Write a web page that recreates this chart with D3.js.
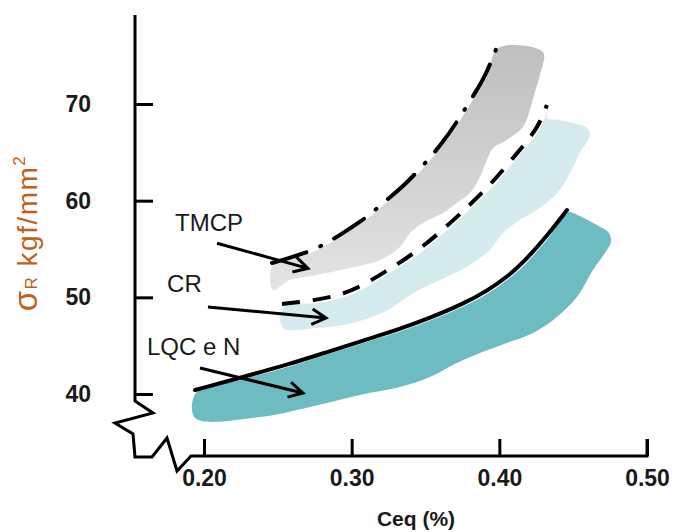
<!DOCTYPE html>
<html>
<head>
<meta charset="utf-8">
<script src="https://cdn.jsdelivr.net/npm/d3@7"></script>
<style>
    html, body { margin: 0; padding: 0; background: #fff; }
    #chart svg { display: block; }
</style>
</head>
<body>
<div id="chart"></div>
<script>
// tick values / labels
var xTicks = [0.20, 0.30, 0.40, 0.50];
var yTicks = [40, 50, 60, 70];

// upper boundary lines  [Ceq, sigmaR]
var tmcpLine = [[0.246, 53.55], [0.2697, 54.59], [0.2833, 55.62], [0.2941, 56.65], [0.3056, 57.79],
    [0.3144, 58.83], [0.326, 60.38], [0.3361, 61.62], [0.353, 64.41], [0.3618, 66.07],
    [0.370, 67.83], [0.3835, 71.14], [0.3903, 72.79], [0.3984, 75.9]];
var crLine = [[0.2528, 49.31], [0.2765, 49.72], [0.2921, 50.24], [0.3056, 51.07], [0.3225, 52.62],
    [0.3429, 54.59], [0.3618, 56.97], [0.380, 59.55], [0.397, 62.14], [0.4126, 65.03],
    [0.4207, 66.48], [0.4275, 68.03], [0.4322, 69.9]];
var lqcLine = [[0.1939, 40.41], [0.2264, 41.76], [0.2582, 43.1], [0.2833, 44.34], [0.309, 45.59],
    [0.3307, 46.62], [0.353, 47.86], [0.3754, 49.31], [0.3916, 50.65], [0.4051, 52.1],
    [0.416, 53.55], [0.4322, 56.34], [0.4458, 59.03]];

// scatter bands: lower/right outline of each region (upper edge runs along its line)
var tmcpBandEdge = [[0.4295, 75.38], [0.4275, 73.0], [0.4241, 71.24], [0.4207, 69.38], [0.416, 67.62],
    [0.4051, 66.28], [0.3957, 65.45], [0.3916, 64.2], [0.3869, 62.45], [0.3801, 60.79],
    [0.3713, 59.76], [0.3618, 58.72], [0.3483, 57.69], [0.3395, 56.65], [0.3327, 55.21],
    [0.3192, 53.86], [0.2989, 53.03], [0.2765, 52.31], [0.2582, 51.79], [0.2467, 50.76]];
var crBandEdge = [[0.4322, 68.55], [0.441, 68.34], [0.4593, 67.52], [0.4613, 66.79], [0.4546, 64.93],
    [0.4478, 62.86], [0.441, 61.1], [0.4343, 60.07], [0.4255, 59.03], [0.4139, 58.0],
    [0.4024, 56.65], [0.3936, 54.9], [0.3821, 53.55], [0.3713, 52.62], [0.3598, 51.79],
    [0.3483, 50.97], [0.3374, 50.03], [0.3259, 48.79], [0.3077, 47.65], [0.2941, 47.14],
    [0.2765, 46.83], [0.2535, 46.83]];
var lqcBandEdge = [[0.4498, 58.72], [0.4661, 57.48], [0.4742, 56.65], [0.4756, 55.72], [0.4729, 54.9],
    [0.4634, 52.83], [0.4525, 50.03], [0.439, 47.97], [0.4228, 46.31], [0.4051, 45.28],
    [0.3869, 44.24], [0.3713, 43.21], [0.353, 41.76], [0.3327, 40.72], [0.3056, 39.9],
    [0.2718, 38.66], [0.2379, 37.62], [0.1939, 37.52]];

// labels with arrows: text anchor, arrow start, arrow end (data coords)
var labelNames = ['TMCP', 'CR', 'LQC e N'];
var labelAt = [[0.1804, 56.86], [0.175, 50.55], [0.1614, 44.03]];
var arrowFrom = [[0.2088, 55.6], [0.2027, 49.0], [0.1973, 42.69]];
var arrowTo = [[0.2704, 53.0], [0.2826, 47.86], [0.267, 40.1]];

function MyApp() {

    this.init = function() {
        this._config = {
            width: 681,
            height: 532
        };
        this._x = d3.scaleLinear().domain([0.2, 0.5]).range([204, 647]);
        this._y = d3.scaleLinear().domain([40, 70]).range([394, 104]);
        this._rootNode = undefined;
        this._initElements();
        this._drawBands();
        this._drawLines();
        this._drawAxes();
        this._drawLabels();
    };

    this._initElements = function() {
        this._rootNode = d3.select('#chart')
            .append('svg')
            .attr('width', this._config.width)
            .attr('height', this._config.height);

        var grad = this._rootNode.append('defs')
            .append('linearGradient')
            .attr('id', 'grayFill')
            .attr('gradientUnits', 'userSpaceOnUse')
            .attr('x1', 0).attr('y1', 48)
            .attr('x2', 0).attr('y2', 292);
        grad.append('stop').attr('offset', '0%').attr('stop-color', '#bfbfbf');
        grad.append('stop').attr('offset', '100%').attr('stop-color', '#e4e4e4');
    };

    this._drawBands = function() {
        var x = this._x, y = this._y;
        var area = d3.line()
            .x(function(d) { return x(d[0]); })
            .y(function(d) { return y(d[1]); })
            .curve(d3.curveCatmullRomClosed.alpha(0.5));

        // upper edge = boundary line, nudged a little under it
        var under = function(pts, dy) {
            return pts.map(function(p) { return [p[0] + 0.001, p[1] - dy]; });
        };
        var bands = [
            { pts: under(tmcpLine, 0.1).concat(tmcpBandEdge), fill: 'url(#grayFill)' },
            { pts: under(crLine, 0.3).concat(crBandEdge), fill: '#d5ebee' },
            { pts: under(lqcLine, 0.2).concat(lqcBandEdge), fill: '#6dbcc2' }
        ];
        this._rootNode.selectAll('path.band')
            .data(bands)
            .enter().append('path')
            .attr('class', 'band')
            .attr('d', function(b) { return area(b.pts); })
            .attr('fill', function(b) { return b.fill; });
    };

    this._drawLines = function() {
        var x = this._x, y = this._y;
        var line = d3.line()
            .x(function(d) { return x(d[0]); })
            .y(function(d) { return y(d[1]); })
            .curve(d3.curveBasis);

        var lines = [
            { pts: tmcpLine, dash: '36,15,1,15', cap: 'round' },
            { pts: crLine, dash: '18,13', cap: 'butt' },
            { pts: lqcLine, dash: null, cap: 'round' }
        ];
        this._rootNode.selectAll('path.bound')
            .data(lines)
            .enter().append('path')
            .attr('class', 'bound')
            .attr('d', function(l) { return line(l.pts); })
            .attr('fill', 'none')
            .attr('stroke', '#000')
            .attr('stroke-width', 4)
            .attr('stroke-linecap', function(l) { return l.cap; })
            .attr('stroke-dasharray', function(l) { return l.dash; });
    };

    this._drawAxes = function() {
        var x = this._x, y = this._y;
        var ax = 135, ay = 456;
        var svg = this._rootNode;

        var xAxis = d3.axisBottom(x)
            .tickValues(xTicks)
            .tickFormat(d3.format('.2f'))
            .tickSizeInner(-17)
            .tickSizeOuter(0)
            .tickPadding(14);
        var gx = svg.append('g').attr('transform', 'translate(0,' + ay + ')').call(xAxis);

        var yAxis = d3.axisLeft(y)
            .tickValues(yTicks)
            .tickSizeInner(-18)
            .tickSizeOuter(0)
            .tickPadding(44);
        var gy = svg.append('g').attr('transform', 'translate(' + ax + ',0)').call(yAxis);

        [gx, gy].forEach(function(g) {
            g.select('.domain').remove();
            g.selectAll('.tick line').attr('stroke', '#000').attr('stroke-width', 3);
            g.selectAll('.tick text')
                .attr('fill', '#1a1a1a')
                .style('font-family', '"Liberation Sans", Arial, sans-serif')
                .style('font-size', '23px')
                .style('font-weight', 'bold');
        });
        gy.selectAll('.tick text').attr('text-anchor', 'end').attr('dx', 0);

        // axis lines with the broken-axis zigzags
        var brk = d3.path();
        brk.moveTo(ax, 15);
        brk.lineTo(ax, 401);
        brk.lineTo(ax + 18, 413);
        brk.lineTo(ax - 20, 423);
        brk.lineTo(ax - 2, 434);
        brk.lineTo(ax, ay + 1);
        brk.lineTo(ax + 17, ay + 1);
        brk.lineTo(ax + 32, ay - 18);
        brk.lineTo(ax + 42, ay + 15);
        brk.lineTo(ax + 56, ay);
        brk.lineTo(x(0.5), ay);
        brk.lineTo(x(0.5), ay - 17);
        svg.append('path')
            .attr('d', brk.toString())
            .attr('fill', 'none')
            .attr('stroke', '#000')
            .attr('stroke-width', 3)
            .attr('stroke-linejoin', 'miter');

        svg.append('text')
            .attr('x', 416)
            .attr('y', 526)
            .attr('text-anchor', 'middle')
            .attr('fill', '#1a1a1a')
            .style('font-family', '"Liberation Sans", Arial, sans-serif')
            .style('font-size', '21px')
            .style('font-weight', 'bold')
            .text('Ceq (%)');

        var yl = svg.append('text')
            .attr('transform', 'translate(37,233) rotate(-90)')
            .attr('text-anchor', 'middle')
            .attr('fill', '#c0601c')
            .style('font-family', '"Liberation Sans", Arial, sans-serif')
            .style('font-size', '28px')
            .style('letter-spacing', '1.5px');
        yl.append('tspan').style('font-size', '33px').text('σ');
        yl.append('tspan').style('font-size', '17px').text('R');
        yl.append('tspan').text(' kgf/mm');
        yl.append('tspan').style('font-size', '17px').attr('dy', -12).text('2');
    };

    this._drawLabels = function() {
        var x = this._x, y = this._y;
        var svg = this._rootNode;
        var data = labelNames.map(function(n, i) {
            return { name: n, at: labelAt[i], from: arrowFrom[i], to: arrowTo[i] };
        });

        svg.selectAll('text.lab')
            .data(data)
            .enter().append('text')
            .attr('class', 'lab')
            .attr('x', function(d) { return x(d.at[0]); })
            .attr('y', function(d) { return y(d.at[1]); })
            .attr('fill', '#1a1a1a')
            .style('font-family', '"Liberation Sans", Arial, sans-serif')
            .style('font-size', '24px')
            .text(function(d) { return d.name; });

        var arrow = function(d) {
            var x0 = x(d.from[0]), y0 = y(d.from[1]);
            var x1 = x(d.to[0]), y1 = y(d.to[1]);
            var a = Math.atan2(y1 - y0, x1 - x0);
            var len = 16, spread = 0.5;
            var p = d3.path();
            p.moveTo(x0, y0);
            p.lineTo(x1, y1);
            p.moveTo(x1 - len * Math.cos(a - spread), y1 - len * Math.sin(a - spread));
            p.lineTo(x1, y1);
            p.lineTo(x1 - len * Math.cos(a + spread), y1 - len * Math.sin(a + spread));
            return p.toString();
        };
        svg.selectAll('path.arrow')
            .data(data)
            .enter().append('path')
            .attr('class', 'arrow')
            .attr('d', arrow)
            .attr('fill', 'none')
            .attr('stroke', '#000')
            .attr('stroke-width', 3)
            .attr('stroke-linejoin', 'miter');
    };

    this.init();
}

function initApp() {
    if (typeof(window.myApp) === 'undefined') {
        window.myApp = new MyApp();
    }
}
document.addEventListener('DOMContentLoaded', initApp);
</script>
</body>
</html>
